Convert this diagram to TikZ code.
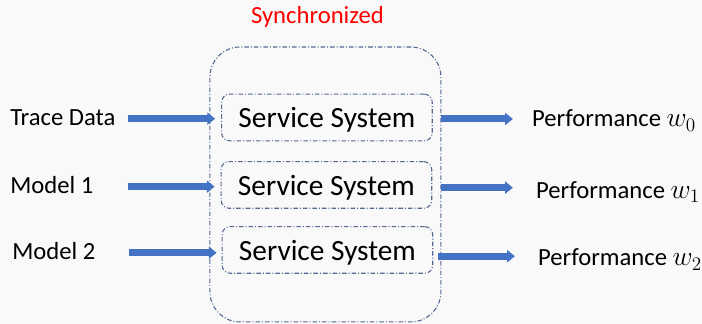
\documentclass[tikz,border=0pt]{standalone}
\usepackage{fontspec}
\setmainfont{Carlito}
\usetikzlibrary{arrows.meta}

\definecolor{arrowblue}{RGB}{68,114,196}
\definecolor{framegray}{RGB}{84,104,146}
\definecolor{paper}{RGB}{249,249,249}

% the weight symbol after "Performance", set a little larger than the text
\newcommand{\wsym}[1]{{\fontsize{22}{26}\selectfont$w_{#1}$}}

\begin{document}
\begin{tikzpicture}[x=0.75pt,y=0.75pt,yscale=-1,xscale=1,
		dashdot/.style={draw=framegray, line width=0.8pt, dash pattern=on 3.4pt off 1.5pt on 0.75pt off 1.5pt},
		sysbox/.style={dashdot, rounded corners=6pt, minimum width=158pt, minimum height=35pt, inner sep=0pt, text depth=0pt, font=\fontsize{22}{26}\selectfont},
		lbl/.style={anchor=base west, inner sep=0pt, font=\fontsize{18.5}{22}\selectfont},
		flow/.style={arrowblue, line width=5.25pt, -{Triangle[length=5.8pt,width=9pt]}}]

		% Background, sets the size of the diagram
		\fill[paper] (0,0) rectangle (702,324);

		% The rounded frame round the three systems
		\node[dashdot, rounded corners=22.5pt, minimum width=173.25pt, minimum height=206.25pt, inner sep=0pt] (frame) at (325.5,184.5) {};

		% The word "Synchronized" in red above the frame
		\node[anchor=base, inner sep=0pt, text=red, font=\fontsize{18.5}{22}\selectfont] (sync) at (317.5,24) {Synchronized};

		% The three service systems
		\node[sysbox] (sys0) at (327,117.5) {Service System};
		\node[sysbox] (sys1) at (326.5,185) {Service System};
		\node[sysbox] (sys2) at (327.5,250) {Service System};

		% Inputs (left)
		\node[lbl] (trace) at (10,126) {Trace Data};
		\node[lbl] (model1) at (10,194) {Model 1};
		\node[lbl] (model2) at (12,260) {Model 2};

		% Outputs (right)
		\node[lbl] (perf0) at (532,127) {Performance \wsym{0}};
		\node[lbl] (perf1) at (536,198.3) {Performance \wsym{1}};
		\node[lbl] (perf2) at (538,266) {Performance \wsym{2}};

		% Start points of the input arrows and tips of the output arrows
		\coordinate (src0) at (128,118.7);
		\coordinate (src1) at (128,186.7);
		\coordinate (src2) at (129,252.8);
		\coordinate (dst0) at (513,119);
		\coordinate (dst1) at (513,187.7);
		\coordinate (dst2) at (515,256.3);

		% Blue arrows into the frame
		\draw[flow, shorten >=4.5pt] (src0) -- (src0 -| sys0.west);
		\draw[flow, shorten >=4.5pt] (src1) -- (src1 -| sys1.west);
		\draw[flow, shorten >=3.75pt] (src2) -- (src2 -| sys2.west);

		% Blue arrows out of the frame
		\draw[flow] (dst0 -| frame.east) -- (dst0);
		\draw[flow] (dst1 -| frame.east) -- (dst1);
		\draw[flow, shorten <=-2.25pt] (dst2 -| frame.east) -- (dst2);
	\end{tikzpicture}
\end{document}
